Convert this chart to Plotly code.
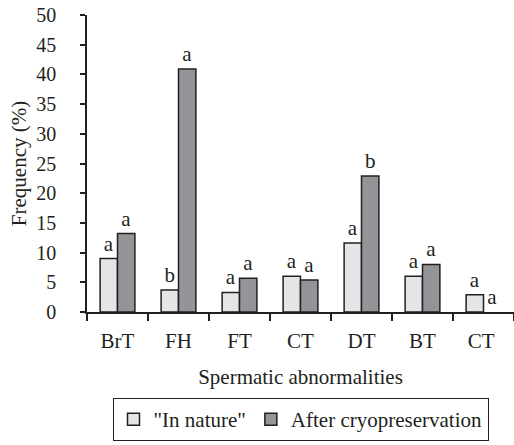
import plotly.graph_objects as go

categories = ["BrT", "FH", "FT", "CT", "DT", "BT", "CT "]
in_nature = [9.0, 3.7, 3.3, 6.0, 11.6, 6.0, 2.9]
after_cryo = [13.2, 40.9, 5.7, 5.4, 22.9, 8.0, 0.0]
letters_nature = ["a", "b", "a", "a", "a", "a", "a"]
letters_cryo = ["a", "a", "a", "a", "b", "a", "a"]
y_ticks = [0, 5, 10, 15, 20, 25, 30, 35, 40, 45, 50]

FONT = "Liberation Serif"
INK = "#231f20"


def outline_widths(values):
    return [1.5 if v > 0 else 0 for v in values]


fig = go.Figure()
fig.add_trace(go.Bar(
    x=categories, y=in_nature, name='"In nature"',
    marker=dict(color="#e4e5e6", line=dict(color=INK, width=outline_widths(in_nature))),
    text=letters_nature, textposition="outside",
    textfont=dict(family=FONT, size=21, color=INK), cliponaxis=False,
))
fig.add_trace(go.Bar(
    x=categories, y=after_cryo, name="After cryopreservation",
    marker=dict(color="#939598", line=dict(color=INK, width=outline_widths(after_cryo))),
    text=letters_cryo, textposition="outside",
    textfont=dict(family=FONT, size=21, color=INK), cliponaxis=False,
))

fig.update_layout(
    width=514, height=445,
    margin=dict(l=87, r=0, t=15, b=133, autoexpand=False),
    paper_bgcolor="white", plot_bgcolor="white",
    font=dict(family=FONT, size=21, color=INK),
    barmode="group", bargap=0.43, bargroupgap=0,
    showlegend=True,
    legend=dict(
        orientation="h", x=0.5, xanchor="center", y=-0.29, yanchor="top",
        bordercolor=INK, borderwidth=1, font=dict(family=FONT, size=21, color=INK),
        traceorder="normal",
    ),
    xaxis=dict(
        automargin=False,
        showline=True, linecolor=INK, linewidth=1.5,
        ticks="outside", tickson="boundaries", ticklen=7, tickcolor=INK, tickwidth=1.5,
        tickfont=dict(family=FONT, size=21, color=INK),
        ticklabelstandoff=9,
        title=dict(text="Spermatic abnormalities", font=dict(family=FONT, size=21, color=INK), standoff=17),
        showgrid=False,
    ),
    yaxis=dict(
        automargin=False,
        range=[0, 50], tickvals=y_ticks,
        showline=True, linecolor=INK, linewidth=1.5,
        ticks="outside", ticklen=5, tickcolor=INK, tickwidth=1.5,
        tickfont=dict(family=FONT, size=20, color=INK),
        ticklabelstandoff=20,
        title=dict(text="Frequency (%)", font=dict(family=FONT, size=21, color=INK), standoff=4),
        showgrid=False, zeroline=False,
    ),
)

fig.write_html("out.html", config={"displayModeBar": False},
               post_script="document.body.style.margin='0';")
